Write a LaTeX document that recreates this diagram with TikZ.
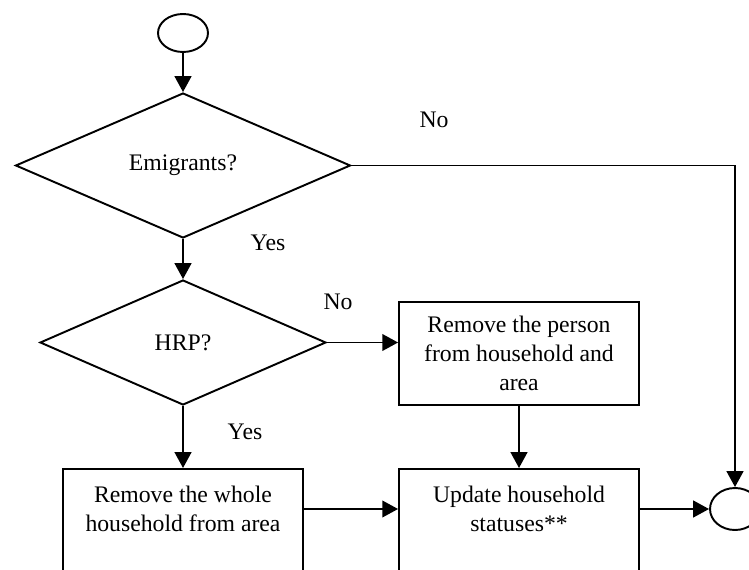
\documentclass[tikz,border=0pt]{standalone}
\usepackage{fontspec}
\setmainfont{Liberation Serif}
\usetikzlibrary{shapes.geometric,arrows.meta}

\begin{document}
\begin{tikzpicture}[
            x=0.02cm, y=-0.02cm,
            font=\fontsize{13.5}{16.5}\selectfont,
            terminal/.style={
                draw,
                ellipse,
                line width=1.1pt,
                minimum width=1cm,
                minimum height=0.76cm,
                inner sep=0pt
            },
            decisionbox/.style={
                draw,
                diamond,
                line width=1.1pt,
                inner sep=0pt
            },
            processbox/.style={
                draw,
                rectangle,
                line width=1.1pt,
                minimum width=4.8cm,
                align=center
            },
            lowbox/.style={
                processbox,
                anchor=north,
                inner ysep=10pt,
                text depth=3cm
            },
            flowarrow/.style={
                -{Triangle[length=9pt,width=9.5pt]},
                line width=1.1pt
            },
            flowlabel/.style={
                inner sep=0pt
            }
        ]

        \useasboundingbox (0,0) rectangle (749,570);
        \clip (0,0) rectangle (749,570);

        % --- Decisions ---
        \node[terminal] (start) at (183,33) {};

        \node[decisionbox, minimum width=6.7cm, minimum height=2.9cm]
            (emig) at (183,165.5) {Emigrants?};

        \node[decisionbox, minimum width=5.72cm, minimum height=2.5cm]
            (hrp) at (183,342.5) {HRP?};

        \node[flowlabel] (emigno) at (434,120) {No};
        \node[flowlabel] (emigyes) at (268,243) {Yes};
        \node[flowlabel] (hrpno) at (338,302) {No};
        \node[flowlabel] (hrpyes) at (245,432) {Yes};

        % --- Processing ---
        \node[processbox, minimum height=2.06cm]
            (removeperson) at (519,353.5)
            {Remove the person\\from household and\\area};

        \node[lowbox] (removehh) at (183,468)
            {Remove the whole\\household from area};

        \node[lowbox] (update) at (519,468)
            {Update household\\statuses**};

        \node[terminal, minimum height=0.84cm] (finish) at (735,509) {};

        \draw[flowarrow] (start.south) -- (emig.north);
        \draw[flowarrow] (emig.south) -- (hrp.north);
        \draw[flowarrow] (emig.east) -| (finish.north);
        \draw[flowarrow] (hrp.east) -- (hrp.east -| removeperson.west);
        \draw[flowarrow] (hrp.south) -- (removehh.north);
        \draw[flowarrow] (removeperson.south) -- (update.north);
        \draw[flowarrow] ([yshift=-0.82cm]removehh.north east)
            -- ([yshift=-0.82cm]update.north west);
        \draw[flowarrow] (finish.west -| update.east) -- (finish.west);

        \end{tikzpicture}
\end{document}
